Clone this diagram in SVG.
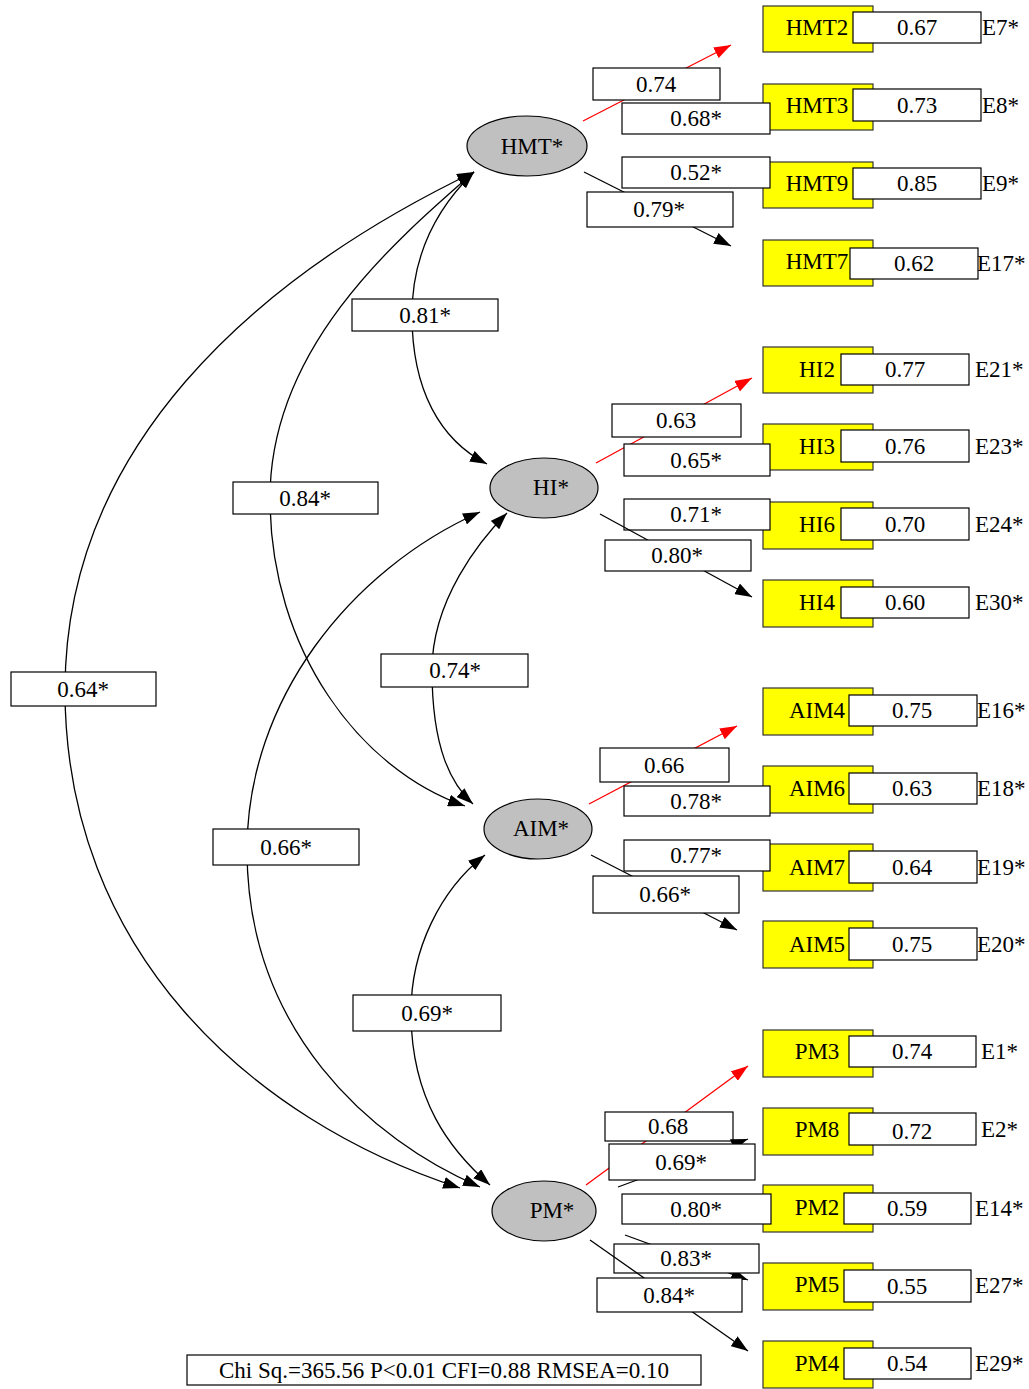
<svg xmlns="http://www.w3.org/2000/svg" width="1029" height="1389" viewBox="0 0 1029 1389">
<defs>
<style>
text{font-family:"Liberation Serif","Times New Roman",serif;font-size:23px;fill:#000}
.c{text-anchor:middle}
.lat{fill:#c0c0c0;stroke:#000;stroke-width:1.2}
.ind{fill:#ffff00;stroke:#333;stroke-width:1.2}
.box{fill:#fff;stroke:#000;stroke-width:1.2}
.ln{fill:none;stroke:#000;stroke-width:1.3;marker-end:url(#ab)}
.red{fill:none;stroke:#f00;stroke-width:1.3;marker-end:url(#ar)}
.cv{fill:none;stroke:#000;stroke-width:1.3;marker-start:url(#abs);marker-end:url(#ab)}
</style>
<marker id="ab" markerUnits="userSpaceOnUse" markerWidth="17" markerHeight="12" refX="17" refY="6" orient="auto"><path d="M0,0 L17,6 L0,12 z" fill="#000"/></marker>
<marker id="abs" markerUnits="userSpaceOnUse" markerWidth="17" markerHeight="12" refX="17" refY="6" orient="auto-start-reverse"><path d="M0,0 L17,6 L0,12 z" fill="#000"/></marker>
<marker id="ar" markerUnits="userSpaceOnUse" markerWidth="17" markerHeight="12" refX="17" refY="6" orient="auto"><path d="M0,0 L17,6 L0,12 z" fill="#f00"/></marker>
</defs>
<rect x="0" y="0" width="1029" height="1389" fill="#fff"/>

<g id="indicators">
<g id="HMT2"><rect class="ind" x="763" y="6" width="110" height="46"/><text class="c" x="817" y="35">HMT2</text><rect class="box" x="853" y="12" width="128" height="31"/><text class="c" x="917" y="35">0.67</text><text x="982" y="35">E7*</text></g>
<g id="HMT3"><rect class="ind" x="763" y="84" width="110" height="46"/><text class="c" x="817" y="113">HMT3</text><rect class="box" x="853" y="89" width="128" height="32"/><text class="c" x="917" y="113">0.73</text><text x="982" y="113">E8*</text></g>
<g id="HMT9"><rect class="ind" x="763" y="162" width="110" height="46"/><text class="c" x="817" y="191">HMT9</text><rect class="box" x="853" y="168" width="128" height="31"/><text class="c" x="917" y="191">0.85</text><text x="982" y="191">E9*</text></g>
<g id="HMT7"><rect class="ind" x="763" y="240" width="110" height="46"/><text class="c" x="817" y="269">HMT7</text><rect class="box" x="850" y="248" width="128" height="31"/><text class="c" x="914" y="271">0.62</text><text x="977" y="271">E17*</text></g>

<g id="HI2"><rect class="ind" x="763" y="347" width="110" height="46"/><text class="c" x="817" y="377">HI2</text><rect class="box" x="841" y="354" width="128" height="31"/><text class="c" x="905" y="377">0.77</text><text x="975" y="377">E21*</text></g>
<g id="HI3"><rect class="ind" x="763" y="424" width="110" height="46"/><text class="c" x="817" y="454">HI3</text><rect class="box" x="841" y="430" width="128" height="32"/><text class="c" x="905" y="454">0.76</text><text x="975" y="454">E23*</text></g>
<g id="HI6"><rect class="ind" x="763" y="502" width="110" height="47"/><text class="c" x="817" y="532">HI6</text><rect class="box" x="841" y="508" width="128" height="32"/><text class="c" x="905" y="532">0.70</text><text x="975" y="532">E24*</text></g>
<g id="HI4"><rect class="ind" x="763" y="580" width="110" height="47"/><text class="c" x="817" y="610">HI4</text><rect class="box" x="841" y="587" width="128" height="31"/><text class="c" x="905" y="610">0.60</text><text x="975" y="610">E30*</text></g>

<g id="AIM4"><rect class="ind" x="763" y="688" width="110" height="47"/><text class="c" x="817" y="718">AIM4</text><rect class="box" x="849" y="695" width="128" height="31"/><text class="c" x="912" y="718">0.75</text><text x="977" y="718">E16*</text></g>
<g id="AIM6"><rect class="ind" x="763" y="766" width="110" height="47"/><text class="c" x="817" y="796">AIM6</text><rect class="box" x="849" y="773" width="128" height="31"/><text class="c" x="912" y="796">0.63</text><text x="977" y="796">E18*</text></g>
<g id="AIM7"><rect class="ind" x="763" y="844" width="110" height="47"/><text class="c" x="817" y="875">AIM7</text><rect class="box" x="849" y="851" width="128" height="32"/><text class="c" x="912" y="875">0.64</text><text x="977" y="875">E19*</text></g>
<g id="AIM5"><rect class="ind" x="763" y="921" width="110" height="47"/><text class="c" x="817" y="952">AIM5</text><rect class="box" x="849" y="928" width="128" height="32"/><text class="c" x="912" y="952">0.75</text><text x="977" y="952">E20*</text></g>

<g id="PM3"><rect class="ind" x="763" y="1030" width="110" height="47"/><text class="c" x="817" y="1059">PM3</text><rect class="box" x="849" y="1036" width="127" height="31"/><text class="c" x="912" y="1059">0.74</text><text x="981" y="1059">E1*</text></g>
<g id="PM8"><rect class="ind" x="763" y="1108" width="110" height="47"/><text class="c" x="817" y="1137">PM8</text><rect class="box" x="849" y="1113" width="127" height="32"/><text class="c" x="912" y="1139">0.72</text><text x="981" y="1137">E2*</text></g>
<g id="PM2"><rect class="ind" x="763" y="1185" width="110" height="47"/><text class="c" x="817" y="1215">PM2</text><rect class="box" x="844" y="1193" width="127" height="31"/><text class="c" x="907" y="1216">0.59</text><text x="975" y="1216">E14*</text></g>
<g id="PM5"><rect class="ind" x="763" y="1263" width="110" height="47"/><text class="c" x="817" y="1292">PM5</text><rect class="box" x="844" y="1270" width="127" height="32"/><text class="c" x="907" y="1294">0.55</text><text x="975" y="1293">E27*</text></g>
<g id="PM4"><rect class="ind" x="763" y="1341" width="110" height="47"/><text class="c" x="817" y="1371">PM4</text><rect class="box" x="844" y="1348" width="127" height="31"/><text class="c" x="907" y="1371">0.54</text><text x="975" y="1371">E29*</text></g>
</g>

<g id="connectors">
<g><path class="red" d="M583,121 L731,45"/><rect class="box" x="593" y="68" width="127" height="32"/><text class="c" x="656" y="92">0.74</text></g>
<g><path class="ln" d="M628,120 L765,118"/><rect class="box" x="622" y="103" width="148" height="31"/><text class="c" x="696" y="126">0.68*</text></g>
<g><path class="ln" d="M628,172 L765,174"/><rect class="box" x="622" y="157" width="148" height="31"/><text class="c" x="696" y="180">0.52*</text></g>
<g><path class="ln" d="M584,172 L731,246"/><rect class="box" x="587" y="192" width="146" height="35"/><text class="c" x="659" y="217">0.79*</text></g>

<g><path class="red" d="M596,463 L752,378"/><rect class="box" x="612" y="404" width="129" height="33"/><text class="c" x="676" y="428">0.63</text></g>
<g><path class="ln" d="M630,460 L765,458"/><rect class="box" x="624" y="444" width="146" height="32"/><text class="c" x="696" y="468">0.65*</text></g>
<g><path class="ln" d="M630,514 L765,516"/><rect class="box" x="624" y="499" width="146" height="31"/><text class="c" x="696" y="522">0.71*</text></g>
<g><path class="ln" d="M600,514 L752,597"/><rect class="box" x="605" y="540" width="146" height="31"/><text class="c" x="677" y="563">0.80*</text></g>

<g><path class="red" d="M589,804 L737,726"/><rect class="box" x="600" y="748" width="129" height="34"/><text class="c" x="664" y="773">0.66</text></g>
<g><path class="ln" d="M630,801 L765,800"/><rect class="box" x="624" y="786" width="146" height="30"/><text class="c" x="696" y="809">0.78*</text></g>
<g><path class="ln" d="M630,855 L765,857"/><rect class="box" x="624" y="840" width="146" height="31"/><text class="c" x="696" y="863">0.77*</text></g>
<g><path class="ln" d="M591,855 L737,930"/><rect class="box" x="593" y="876" width="146" height="37"/><text class="c" x="665" y="902">0.66*</text></g>

<g><path class="red" d="M586,1185 L748,1066"/><rect class="box" x="605" y="1112" width="128" height="29"/><text class="c" x="668" y="1134">0.68</text></g>
<g><path class="ln" d="M618,1187 L748,1139"/><rect class="box" x="609" y="1144" width="146" height="36"/><text class="c" x="681" y="1170">0.69*</text></g>
<g><path class="ln" d="M628,1209 L766,1209"/><rect class="box" x="622" y="1194" width="149" height="30"/><text class="c" x="696" y="1217">0.80*</text></g>
<g><path class="ln" d="M625,1235 L748,1280"/><rect class="box" x="614" y="1244" width="145" height="29"/><text class="c" x="686" y="1266">0.83*</text></g>
<g><path class="ln" d="M590,1240 L748,1351"/><rect class="box" x="597" y="1278" width="145" height="34"/><text class="c" x="669" y="1303">0.84*</text></g>

<g><path class="cv" d="M474,172 C250,280 65,450 65,690 C65,950 250,1120 460,1188"/><rect class="box" x="11" y="672" width="145" height="34"/><text class="c" x="83" y="697">0.64*</text></g>
<g><path class="cv" d="M474,172 C390,245 270,350 270,498 C270,650 360,770 465,806"/><rect class="box" x="233" y="482" width="145" height="32"/><text class="c" x="305" y="506">0.84*</text></g>
<g><path class="cv" d="M474,172 C440,205 412,250 412,315 C412,390 440,440 487,464"/><rect class="box" x="352" y="299" width="146" height="32"/><text class="c" x="425" y="323">0.81*</text></g>
<g><path class="cv" d="M480,512 C350,570 247,700 247,850 C247,1030 370,1140 480,1187"/><rect class="box" x="213" y="829" width="146" height="36"/><text class="c" x="286" y="855">0.66*</text></g>
<g><path class="cv" d="M507,513 C480,540 432,600 432,670 C432,750 452,785 473,804"/><rect class="box" x="381" y="654" width="147" height="33"/><text class="c" x="455" y="678">0.74*</text></g>
<g><path class="cv" d="M485,855 C440,890 411,950 411,1012 C411,1100 450,1150 490,1185"/><rect class="box" x="353" y="995" width="148" height="36"/><text class="c" x="427" y="1021">0.69*</text></g>
</g>

<g id="HMT"><ellipse class="lat" cx="527" cy="146" rx="60" ry="30"/><text class="c" x="532" y="154">HMT*</text></g>
<g id="HI"><ellipse class="lat" cx="544" cy="488" rx="54" ry="30"/><text class="c" x="551" y="495">HI*</text></g>
<g id="AIM"><ellipse class="lat" cx="538" cy="829" rx="54" ry="30"/><text class="c" x="541" y="836">AIM*</text></g>
<g id="PM"><ellipse class="lat" cx="544" cy="1211" rx="52" ry="30"/><text class="c" x="552" y="1218">PM*</text></g>

<g id="fit"><rect class="box" x="187" y="1355" width="514" height="30"/><text class="c" x="444" y="1378">Chi Sq.=365.56 P&lt;0.01 CFI=0.88 RMSEA=0.10</text></g>
</svg>
